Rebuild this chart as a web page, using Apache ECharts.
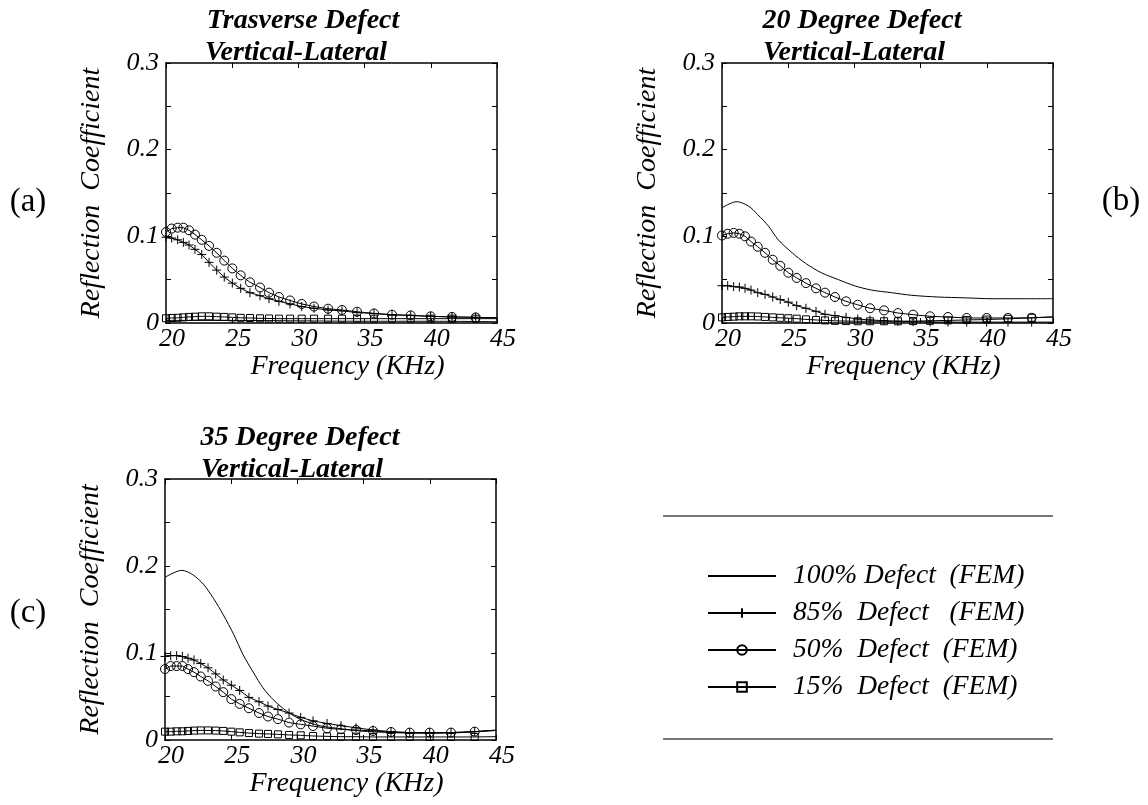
<!DOCTYPE html>
<html>
<head>
<meta charset="utf-8">
<script src="https://cdn.jsdelivr.net/npm/echarts@6/dist/echarts.min.js"></script>
<style>
  html, body { margin: 0; padding: 0; background: #fff; }
  #chart { width: 1148px; height: 805px; }
</style>
</head>
<body>
<div id="chart"></div>
<script>
// Frequencies (KHz) where the FEM solutions carry markers; the last entry closes the curve at 45 KHz.
const freq = [20.0, 20.43, 20.88, 21.31, 21.74, 22.19, 22.70, 23.25, 23.83, 24.40, 25.01, 25.64, 26.34, 27.10,
  27.78, 28.53, 29.37, 30.25, 31.18, 32.24, 33.29, 34.43, 35.71, 37.07, 38.48, 39.99, 41.60, 43.39, 45.0];

// (a) Trasverse defect, vertical-lateral
const aFreq100 = [20, 22.5, 25, 30, 35, 40, 45];
const a100 = [0.003, 0.003, 0.003, 0.0025, 0.002, 0.002, 0.0015];
const a85 = [0.099, 0.098, 0.096, 0.093, 0.090, 0.085, 0.079, 0.070, 0.061, 0.053, 0.046, 0.040, 0.035, 0.0315,
  0.028, 0.025, 0.022, 0.019, 0.017, 0.015, 0.014, 0.012, 0.011, 0.0095, 0.0087, 0.0077, 0.007, 0.0065, 0.006];
const a50 = [0.105, 0.109, 0.110, 0.110, 0.107, 0.102, 0.096, 0.089, 0.081, 0.072, 0.063, 0.055, 0.047, 0.041,
  0.035, 0.030, 0.026, 0.022, 0.019, 0.0165, 0.015, 0.013, 0.011, 0.0096, 0.0088, 0.0077, 0.007, 0.0065, 0.006];
const a15 = [0.0054, 0.0058, 0.006, 0.0065, 0.007, 0.0073, 0.0077, 0.0077, 0.0073, 0.007, 0.0065, 0.006, 0.0058, 0.0054,
  0.0052, 0.005, 0.005, 0.005, 0.005, 0.005, 0.005, 0.005, 0.005, 0.005, 0.005, 0.005, 0.005, 0.005, 0.005];

// (b) 20 degree defect, vertical-lateral
const bFreq100 = [20.0, 21.1, 22.0, 22.7, 23.5, 24.25, 25.3, 26.3, 27.5, 28.8, 30.0, 31.3, 32.8, 34.3, 36.3, 38.4, 40.4, 42.5, 45.0];
const b100 = [0.133, 0.140, 0.135, 0.125, 0.112, 0.096, 0.081, 0.069, 0.058, 0.050, 0.043, 0.038, 0.035, 0.032,
  0.030, 0.029, 0.028, 0.028, 0.028];
const b85 = [0.043, 0.043, 0.042, 0.0415, 0.040, 0.038, 0.035, 0.033, 0.030, 0.027, 0.024, 0.020, 0.017, 0.0135,
  0.010, 0.0085, 0.0065, 0.0046, 0.0035, 0.0027, 0.002, 0.0015, 0.0012, 0.001, 0.001, 0.001, 0.001, 0.001, 0.001];
const b50 = [0.101, 0.103, 0.104, 0.103, 0.100, 0.094, 0.088, 0.081, 0.073, 0.066, 0.058, 0.052, 0.046, 0.040,
  0.035, 0.030, 0.025, 0.021, 0.017, 0.0146, 0.0115, 0.0096, 0.0077, 0.0069, 0.0058, 0.0058, 0.0058, 0.006, 0.007];
const b15 = [0.0065, 0.007, 0.0073, 0.0077, 0.0077, 0.0077, 0.0075, 0.007, 0.0065, 0.006, 0.0055, 0.005, 0.0042, 0.0035,
  0.003, 0.0025, 0.0022, 0.002, 0.002, 0.002, 0.002, 0.0022, 0.0025, 0.003, 0.0035, 0.004, 0.0048, 0.006, 0.007];

// (c) 35 degree defect, vertical-lateral
const cFreq100 = [20.0, 21.26, 22.1, 22.9, 23.65, 24.4, 25.2, 25.9, 26.7, 27.4, 28.2, 29.2, 30.2, 31.5, 33.0, 34.7, 37.2, 39.8, 42.3, 45.0];
const c100 = [0.187, 0.195, 0.190, 0.179, 0.163, 0.144, 0.121, 0.098, 0.077, 0.060, 0.046, 0.033, 0.024, 0.017,
  0.0135, 0.0104, 0.0085, 0.0077, 0.0085, 0.0115];
const c85 = [0.096, 0.097, 0.097, 0.096, 0.094, 0.092, 0.088, 0.083, 0.076, 0.069, 0.063, 0.057, 0.049, 0.044,
  0.039, 0.035, 0.031, 0.026, 0.022, 0.019, 0.0165, 0.014, 0.0115, 0.0096, 0.0085, 0.0085, 0.0085, 0.0096, 0.011];
const c50 = [0.0815, 0.085, 0.085, 0.085, 0.0815, 0.078, 0.073, 0.068, 0.0615, 0.055, 0.047, 0.0415, 0.0365, 0.031,
  0.027, 0.024, 0.020, 0.018, 0.016, 0.0135, 0.0123, 0.0115, 0.0104, 0.0092, 0.0085, 0.0085, 0.0085, 0.0096, 0.011];
const c15 = [0.0096, 0.0096, 0.010, 0.010, 0.0104, 0.0108, 0.011, 0.011, 0.0108, 0.0104, 0.0096, 0.0088, 0.008, 0.0073,
  0.007, 0.0065, 0.0058, 0.0054, 0.0046, 0.0042, 0.0038, 0.0038, 0.0035, 0.0035, 0.0035, 0.0035, 0.0035, 0.0035, 0.0038];

// Axis ticks and labels
const yTickValues = [0, 0.1, 0.2, 0.3];
const yTickLabels = ['0', '0.1', '0.2', '0.3'];
const xTickLabels = ['20', '25', '30', '35', '40', '45'];

// Series names (legend entries) and panel texts
const seriesNames = ['100% Defect  (FEM)', '85%  Defect   (FEM)', '50%  Defect  (FEM)', '15%  Defect  (FEM)'];
const panelTitles = [
  ['Trasverse Defect', 'Vertical-Lateral'],
  ['20 Degree Defect', 'Vertical-Lateral'],
  ['35 Degree Defect', 'Vertical-Lateral']
];
const panelTags = ['(a)', '(b)', '(c)'];
const xName = 'Frequency (KHz)';
const yName = 'Reflection  Coefficient';

const FONT = "'Liberation Serif', 'Times New Roman', serif";

// Plot boxes of the three panels
const grids = [
  { left: 166, top: 63, width: 331, height: 260 },
  { left: 722, top: 63, width: 331, height: 260 },
  { left: 165, top: 479, width: 331, height: 261 }
];

const panels = [
  { f100: aFreq100, v100: a100, v85: a85, v50: a50, v15: a15 },
  { f100: bFreq100, v100: b100, v85: b85, v50: b50, v15: b15 },
  { f100: cFreq100, v100: c100, v85: c85, v50: c50, v15: c15 }
];

const plusSymbol = 'path://M5,0L5,10M0,5L10,5';

function yLabel(v) {
  const k = Math.round(v * 10000);
  for (let i = 0; i < yTickValues.length; i++) {
    if (Math.round(yTickValues[i] * 10000) === k) return yTickLabels[i];
  }
  return '';
}
function xLabel(v) {
  const i = Math.round((v - 20) / 5);
  return xTickLabels[i] !== undefined ? xTickLabels[i] : '';
}

const xAxes = [], yAxes = [], series = [];
grids.forEach((g, gi) => {
  const tick = { show: true, inside: true, length: 5, lineStyle: { color: '#000', width: 1 } };
  const line = { show: true, onZero: false, lineStyle: { color: '#000', width: 1.5 } };
  xAxes.push({
    gridIndex: gi, type: 'value', position: 'bottom', min: 20, max: 45, interval: 5,
    axisLine: line, axisTick: tick, splitLine: { show: false },
    axisLabel: { formatter: xLabel, fontFamily: FONT, fontStyle: 'italic', fontSize: 26, color: '#000', margin: 3,
      padding: [0, 0, 0, 12] },
    name: xName, nameLocation: 'middle', nameGap: 27,
    nameTextStyle: { fontFamily: FONT, fontStyle: 'italic', fontSize: 28, color: '#000', padding: [0, 0, 0, 32] }
  });
  xAxes.push({
    gridIndex: gi, type: 'value', position: 'top', min: 20, max: 45, interval: 5,
    axisLine: line, axisTick: tick, splitLine: { show: false }, axisLabel: { show: false }
  });
  yAxes.push({
    gridIndex: gi, type: 'value', position: 'left', min: 0, max: 0.3, interval: 0.05,
    axisLine: line, axisTick: tick, splitLine: { show: false },
    axisLabel: { formatter: yLabel, fontFamily: FONT, fontStyle: 'italic', fontSize: 26, color: '#000', margin: 7 },
    name: yName, nameLocation: 'middle', nameGap: 60, nameRotate: 90,
    nameTextStyle: { fontFamily: FONT, fontStyle: 'italic', fontSize: 28, color: '#000' }
  });
  yAxes.push({
    gridIndex: gi, type: 'value', position: 'right', min: 0, max: 0.3, interval: 0.05,
    axisLine: line, axisTick: tick, splitLine: { show: false }, axisLabel: { show: false }
  });

  const p = panels[gi];
  const common = {
    type: 'line', xAxisIndex: gi * 2, yAxisIndex: gi * 2, silent: true, animation: false,
    lineStyle: { color: '#000', width: 1 }, emphasis: { disabled: true }
  };
  series.push(Object.assign({}, common, {
    name: seriesNames[0], symbol: 'none', smooth: 0.3,
    itemStyle: { color: '#000' },
    data: p.f100.map((f, i) => [f, p.v100[i]])
  }));
  const marked = [[seriesNames[1], plusSymbol, 9, p.v85], [seriesNames[2], 'circle', 9, p.v50], [seriesNames[3], 'rect', 7, p.v15]];
  marked.forEach(([name, sym, size, vals]) => {
    series.push(Object.assign({}, common, {
      name, symbol: sym, symbolSize: size,
      itemStyle: { color: 'rgba(0,0,0,0)', borderColor: '#000', borderWidth: 1 },
      data: vals.map((v, i) => (i === freq.length - 1 ? { value: [freq[i], v], symbol: 'none' } : [freq[i], v]))
    }));
  });
});

// Panel titles, tags and legend rules
const titleCenters = [[303, 296], [862, 854], [300, 292]];
const titleBottoms = [[35, 67], [35, 67], [452, 484]];
const tagPos = [[28, 202], [1121, 201], [28, 613]];
const graphics = [];
panelTitles.forEach((lines, i) => {
  lines.forEach((t, j) => {
    graphics.push({
      type: 'text', x: titleCenters[i][j], y: titleBottoms[i][j], silent: true,
      style: { text: t, font: `italic bold 28px ${FONT}`, fill: '#000', align: 'center', verticalAlign: 'bottom' }
    });
  });
  graphics.push({
    type: 'text', x: tagPos[i][0], y: tagPos[i][1], silent: true,
    style: { text: panelTags[i], font: `33px ${FONT}`, fill: '#000', align: 'center', verticalAlign: 'middle' }
  });
});
[516, 739].forEach(y => {
  graphics.push({
    type: 'line', silent: true, shape: { x1: 663, y1: y, x2: 1053, y2: y },
    style: { stroke: '#777', lineWidth: 2 }
  });
});

const chart = echarts.init(document.getElementById('chart'), null, { renderer: 'canvas' });
chart.setOption({
  backgroundColor: '#fff',
  animation: false,
  grid: grids.map(g => Object.assign({ containLabel: false }, g)),
  xAxis: xAxes,
  yAxis: yAxes,
  series: series,
  legend: {
    data: [
      { name: seriesNames[0], itemStyle: { color: 'rgba(0,0,0,0)', borderColor: 'rgba(0,0,0,0)', borderWidth: 0 } },
      seriesNames[1], seriesNames[2], seriesNames[3]
    ],
    orient: 'vertical', left: 707, top: 561, padding: 0,
    itemWidth: 68, itemHeight: 12, itemGap: 7, selectedMode: false,
    textStyle: { fontFamily: FONT, fontStyle: 'italic', fontSize: 27.5, color: '#000', lineHeight: 30, padding: [0, 0, 0, 12] }
  },
  graphic: graphics
});
</script>
</body>
</html>
